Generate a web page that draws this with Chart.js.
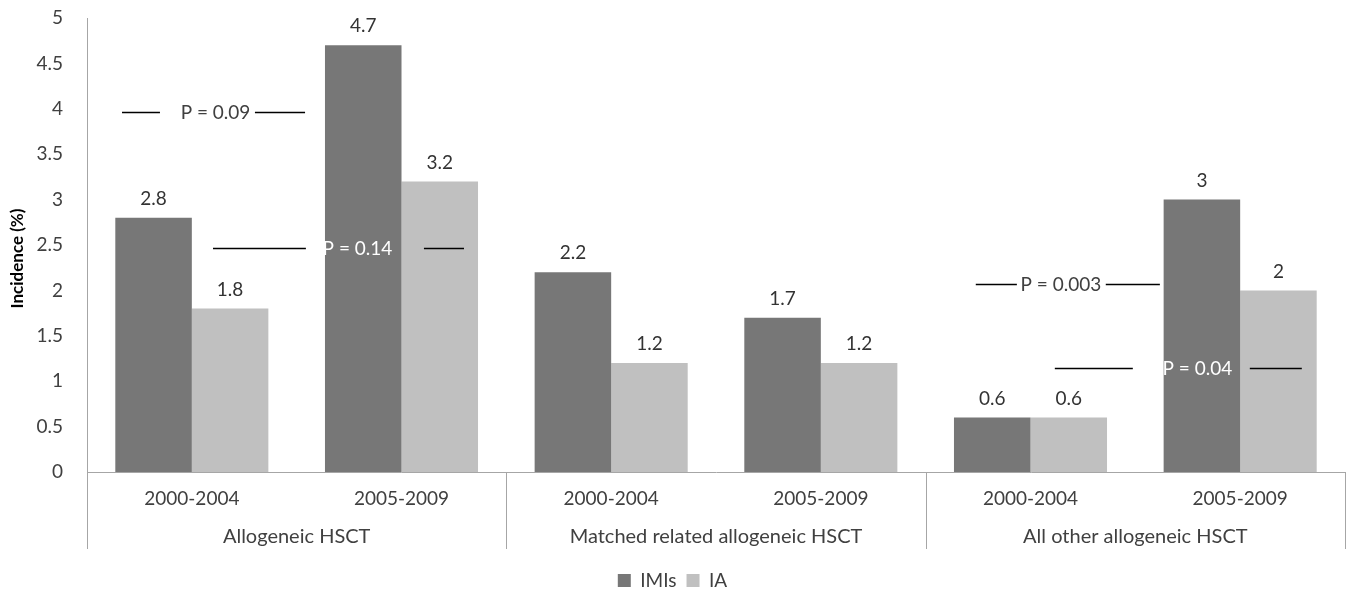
<!DOCTYPE html>
<html>
<head>
<meta charset="utf-8">
<script src="https://cdn.jsdelivr.net/npm/chart.js@4.4.1/dist/chart.umd.min.js"></script>
<style>
  html, body { margin: 0; padding: 0; background: #ffffff; }
  #wrap { width: 1352px; height: 591px; position: relative; }
</style>
</head>
<body>
<div id="wrap"><canvas id="c" width="1352" height="591"></canvas></div>
<script>
// Periods along the x axis and the cohort each pair of periods belongs to
const periods = ['2000-2004', '2005-2009', '2000-2004', '2005-2009', '2000-2004', '2005-2009'];
const groups = ['Allogeneic HSCT', 'Matched related allogeneic HSCT', 'All other allogeneic HSCT'];

// Incidence (%) by series
const imis = [2.8, 4.7, 2.2, 1.7, 0.6, 3.0];
const ia = [1.8, 3.2, 1.2, 1.2, 0.6, 2.0];

// Y axis range
const yMin = 0;
const yMax = 5;
const yStep = 0.5;
const yTitle = 'Incidence (%)';

// P-value comparisons: level on the y axis, label, label centre and line segments (category units)
const pText = ['P = 0.09', 'P = 0.14', 'P = 0.003', 'P = 0.04'];
const pLevel = [3.97, 2.47, 2.07, 1.145];
const pTextAt = [0.113, 0.79, 4.145, 4.796];
const pSegments = [
  [[-0.333, -0.152], [0.301, 0.540]],
  [[0.101, 0.544], [1.107, 1.298]],
  [[3.739, 3.935], [4.359, 4.617]],
  [[4.116, 4.488], [5.046, 5.294]]
];
const pOnBar = [false, true, false, true];

const FONT = 'Lato, "Open Sans", sans-serif';
const TEXT = '#404040';
const AXIS = '#a6a6a6';

// value labels above every bar
const valueLabels = {
  id: 'valueLabels',
  afterDatasetsDraw(chart) {
    const ctx = chart.ctx;
    ctx.save();
    ctx.font = '19px ' + FONT;
    ctx.fillStyle = '#333333';
    ctx.textAlign = 'center';
    ctx.textBaseline = 'middle';
    chart.data.datasets.forEach((ds, di) => {
      chart.getDatasetMeta(di).data.forEach((bar, i) => {
        ctx.fillText(String(ds.data[i]), bar.x, bar.y - 19);
      });
    });
    ctx.restore();
  }
};

// P-value brackets drawn over the bars
const pValues = {
  id: 'pValues',
  afterDatasetsDraw(chart) {
    const ctx = chart.ctx;
    const xs = chart.scales.x, ys = chart.scales.y;
    const unit = xs.getPixelForValue(1) - xs.getPixelForValue(0);
    const px = v => xs.getPixelForValue(0) + v * unit;
    ctx.save();
    ctx.strokeStyle = '#000000';
    ctx.lineWidth = 1.3;
    pText.forEach((t, k) => {
      const y = Math.round(ys.getPixelForValue(pLevel[k])) + 0.5;
      pSegments[k].forEach(seg => {
        ctx.beginPath();
        ctx.moveTo(px(seg[0]), y);
        ctx.lineTo(px(seg[1]), y);
        ctx.stroke();
      });
      ctx.font = '19px ' + FONT;
      ctx.textAlign = 'center';
      ctx.textBaseline = 'middle';
      ctx.fillStyle = pOnBar[k] ? '#ffffff' : TEXT;
      ctx.fillText(t, px(pTextAt[k]), y);
    });
    ctx.restore();
  }
};

// cohort labels, separators and the rotated y title
const groupAxis = {
  id: 'groupAxis',
  afterDraw(chart) {
    const ctx = chart.ctx;
    const xs = chart.scales.x;
    const area = chart.chartArea;
    const bottom = area.bottom + 77;
    const bounds = [area.left];
    for (let g = 1; g < groups.length; g++) {
      bounds.push((xs.getPixelForValue(2 * g - 1) + xs.getPixelForValue(2 * g)) / 2);
    }
    bounds.push(area.right);
    ctx.save();
    ctx.strokeStyle = AXIS;
    ctx.lineWidth = 1;
    bounds.forEach(b => {
      const x = Math.round(b) + 0.5;
      ctx.beginPath();
      ctx.moveTo(x, area.bottom);
      ctx.lineTo(x, bottom);
      ctx.stroke();
    });
    ctx.font = '20px ' + FONT;
    ctx.fillStyle = TEXT;
    ctx.textAlign = 'center';
    ctx.textBaseline = 'middle';
    groups.forEach((g, i) => {
      ctx.fillText(g, (bounds[i] + bounds[i + 1]) / 2, area.bottom + 65);
    });

    ctx.translate(18, (area.top + bottom) / 2 - 25);
    ctx.rotate(-Math.PI / 2);
    ctx.font = 'bold 17px ' + FONT;
    ctx.fillStyle = '#000000';
    ctx.fillText(yTitle, 0, 0);
    ctx.restore();
  }
};

new Chart(document.getElementById('c'), {
  type: 'bar',
  data: {
    labels: periods,
    datasets: [
      { label: 'IMIs', data: imis, backgroundColor: '#777777', borderWidth: 0 },
      { label: 'IA', data: ia, backgroundColor: '#c0c0c0', borderWidth: 0 }
    ]
  },
  options: {
    responsive: false,
    animation: false,
    devicePixelRatio: 1,
    datasets: { bar: { categoryPercentage: 0.73, barPercentage: 1.0 } },
    layout: { padding: { left: 0, right: 7, top: 18, bottom: -9 } },
    plugins: {
      tooltip: { enabled: false },
      legend: {
        position: 'bottom',
        labels: {
          boxWidth: 13, boxHeight: 13, padding: 10,
          color: TEXT, font: { family: FONT, size: 19 }
        }
      }
    },
    scales: {
      x: {
        grid: { display: false, drawTicks: false },
        border: { display: true, color: AXIS, width: 1 },
        ticks: { color: TEXT, font: { family: FONT, size: 19 }, padding: 15, maxRotation: 0 },
        afterFit(s) { s.height = 89; s.paddingLeft = 0; s.paddingRight = 0; }
      },
      y: {
        min: yMin, max: yMax,
        grid: { display: false, drawTicks: false },
        border: { display: true, color: AXIS, width: 1 },
        ticks: {
          stepSize: yStep, color: TEXT, font: { family: FONT, size: 19 }, padding: 24,
          callback: v => String(+v.toFixed(1))
        },
        afterFit(s) { s.width = 87; s.paddingTop = 0; s.paddingBottom = 0; }
      }
    }
  },
  plugins: [valueLabels, pValues, groupAxis]
});
</script>
</body>
</html>
